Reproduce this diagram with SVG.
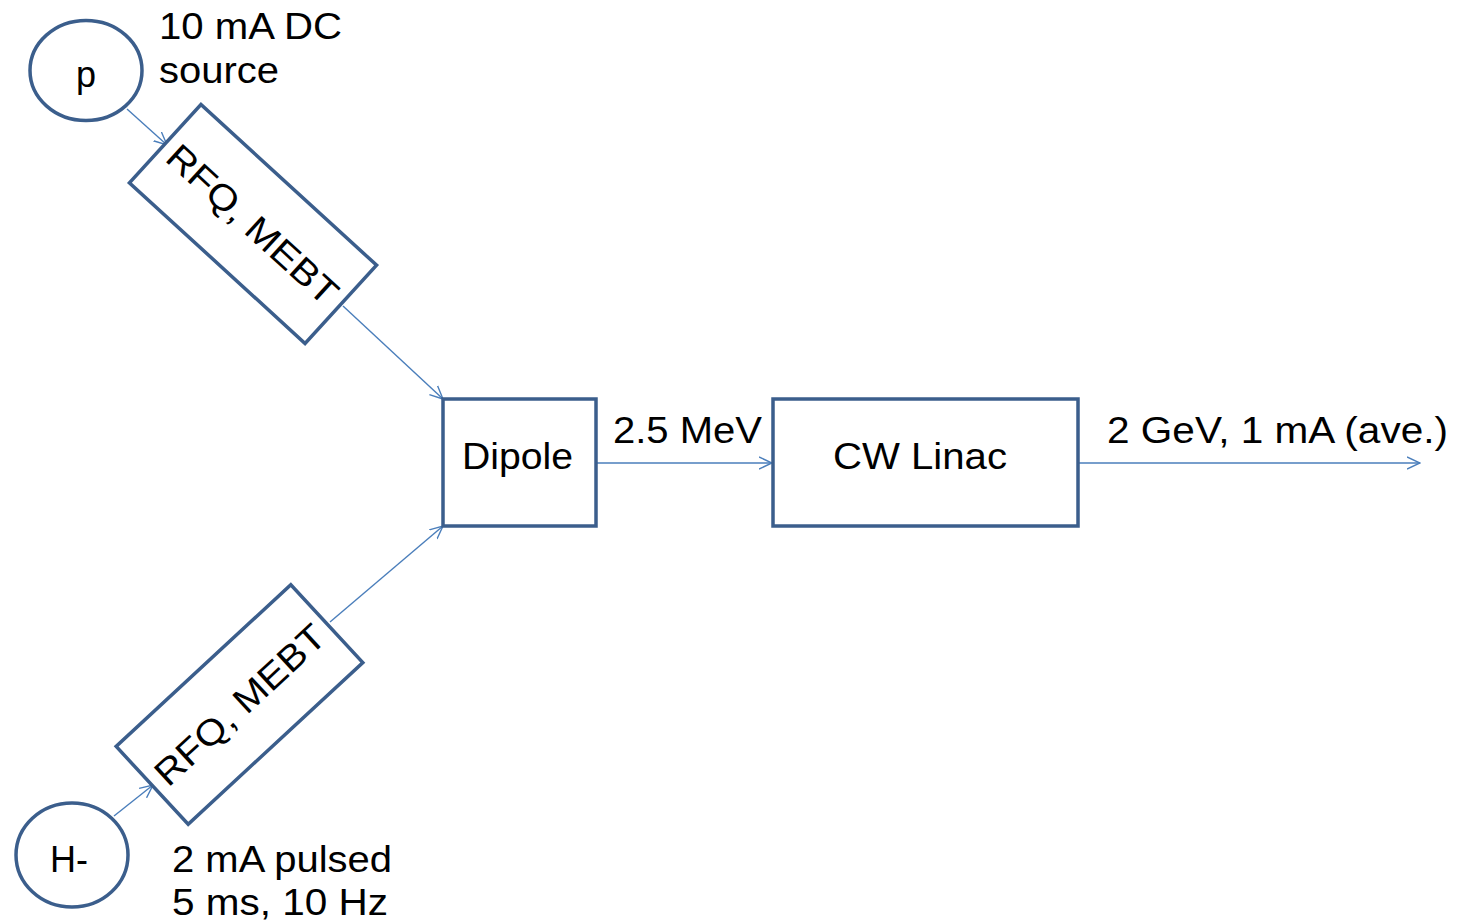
<svg xmlns="http://www.w3.org/2000/svg" width="1467" height="923" viewBox="0 0 1467 923">
<style>
.box{fill:#fff;stroke:#3B5E8C;stroke-width:3.5}
.con{stroke:#4A7EBB;stroke-width:1.4;fill:none;marker-end:url(#ah)}
text{font-family:"Liberation Sans",Arial,sans-serif;font-size:36px;fill:#000}
</style>
<defs>
<marker id="ah" viewBox="0 0 14 14" refX="13" refY="7" markerWidth="14" markerHeight="14" markerUnits="userSpaceOnUse" orient="auto">
<path d="M0,1 L13,7 L0,13" fill="none" stroke="#4A7EBB" stroke-width="1.4"/>
</marker>
</defs>
<rect width="1467" height="923" fill="#fff"/>
<g id="connectors">
<line class="con" x1="127" y1="109" x2="167" y2="145"/>
<line class="con" x1="343" y1="306" x2="443" y2="399"/>
<line class="con" x1="114" y1="816" x2="153" y2="785"/>
<line class="con" x1="330" y1="622" x2="443" y2="526"/>
<line class="con" x1="596" y1="463" x2="772" y2="463"/>
<line class="con" x1="1078" y1="463" x2="1420" y2="463"/>
</g>
<g id="node-p">
<ellipse class="box" cx="86" cy="70.5" rx="56" ry="50"/>
<text x="86" y="87" text-anchor="middle">p</text>
</g>
<g id="label-p">
<text x="159" y="39" textLength="183" lengthAdjust="spacingAndGlyphs">10 mA DC</text>
<text x="159" y="83" textLength="120" lengthAdjust="spacingAndGlyphs">source</text>
</g>
<g id="rfq-top" transform="translate(253,224) rotate(42.45)">
<rect class="box" x="-119" y="-53" width="238" height="106"/>
<text x="-109" y="13" textLength="218" lengthAdjust="spacingAndGlyphs">RFQ, MEBT</text>
</g>
<g id="node-h">
<ellipse class="box" cx="72" cy="855" rx="56" ry="52"/>
<text x="69" y="872" text-anchor="middle">H-</text>
</g>
<g id="label-h">
<text x="172" y="872" textLength="220" lengthAdjust="spacingAndGlyphs">2 mA pulsed</text>
<text x="172" y="915" textLength="216" lengthAdjust="spacingAndGlyphs">5 ms, 10 Hz</text>
</g>
<g id="rfq-bottom" transform="translate(239.5,704.5) rotate(-42.8)">
<rect class="box" x="-119" y="-53" width="238" height="106"/>
<text x="-109" y="13" textLength="218" lengthAdjust="spacingAndGlyphs">RFQ, MEBT</text>
</g>
<g id="dipole">
<rect class="box" x="443" y="399" width="153" height="127"/>
<text x="462" y="469" textLength="111" lengthAdjust="spacingAndGlyphs">Dipole</text>
</g>
<g id="label-25">
<text x="613" y="443" textLength="149" lengthAdjust="spacingAndGlyphs">2.5 MeV</text>
</g>
<g id="linac">
<rect class="box" x="773" y="399" width="305" height="127"/>
<text x="833" y="469" textLength="174" lengthAdjust="spacingAndGlyphs">CW Linac</text>
</g>
<g id="label-out">
<text x="1107" y="443" textLength="341" lengthAdjust="spacingAndGlyphs">2 GeV, 1 mA (ave.)</text>
</g>
</svg>
